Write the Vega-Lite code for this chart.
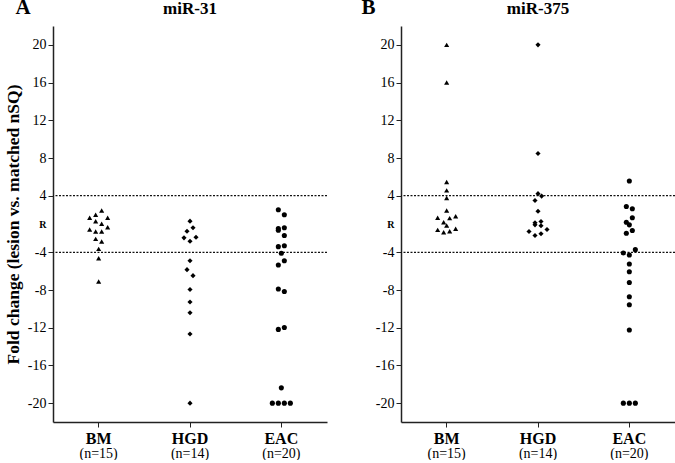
{
  "$schema": "https://vega.github.io/schema/vega-lite/v6.json",
  "config": {
    "font": "Liberation Serif",
    "view": {"stroke": null},
    "axis": {"labelColor": "#000", "titleColor": "#000", "domainColor": "#222", "tickColor": "#222", "labelFont": "Liberation Serif", "titleFont": "Liberation Serif", "grid": false, "labelOverlap": false},
    "title": {"font": "Liberation Serif", "color": "#000"}
  },
  "padding": {"left": 4, "top": -4, "right": 0, "bottom": 0},
  "spacing": 33,
  "datasets": {
    "a": [
      {"g": "BM", "fc": 2.44, "s": 0.5}, {"g": "BM", "fc": 1.66, "s": -1.5}, {"g": "BM", "fc": 1.98, "s": -0.5},
      {"g": "BM", "fc": 1.66, "s": 1.5}, {"g": "BM", "fc": 1.3, "s": -0.5}, {"g": "BM", "fc": 1.02, "s": 0.5},
      {"g": "BM", "fc": -1.59, "s": -1.5}, {"g": "BM", "fc": -1.8, "s": -0.5}, {"g": "BM", "fc": -1.8, "s": 0.5},
      {"g": "BM", "fc": -1.34, "s": 1.5}, {"g": "BM", "fc": -2.58, "s": -0.5}, {"g": "BM", "fc": -2.86, "s": 0.5},
      {"g": "BM", "fc": -3.64, "s": 0}, {"g": "BM", "fc": -4.64, "s": 0}, {"g": "BM", "fc": -7.1, "s": 0},
      {"g": "HGD", "fc": 1.3, "s": 0}, {"g": "HGD", "fc": -1.77, "s": -0.5}, {"g": "HGD", "fc": -1.4, "s": 0.5},
      {"g": "HGD", "fc": -2.47, "s": -1}, {"g": "HGD", "fc": -2.83, "s": 0}, {"g": "HGD", "fc": -2.41, "s": 1},
      {"g": "HGD", "fc": -4.89, "s": 0}, {"g": "HGD", "fc": -5.84, "s": -0.5}, {"g": "HGD", "fc": -6.48, "s": 0.5},
      {"g": "HGD", "fc": -7.94, "s": 0}, {"g": "HGD", "fc": -9.28, "s": 0}, {"g": "HGD", "fc": -10.42, "s": 0},
      {"g": "HGD", "fc": -12.66, "s": 0}, {"g": "HGD", "fc": -20, "s": 0},
      {"g": "EAC", "fc": 2.51, "s": -0.5}, {"g": "EAC", "fc": 1.98, "s": 0.5}, {"g": "EAC", "fc": -1.48, "s": -0.5},
      {"g": "EAC", "fc": -1.66, "s": -0.5}, {"g": "EAC", "fc": -1.4, "s": 0.5}, {"g": "EAC", "fc": -2.22, "s": 0.5},
      {"g": "EAC", "fc": -3.4, "s": -0.5}, {"g": "EAC", "fc": -3.3, "s": 0.5}, {"g": "EAC", "fc": -4.11, "s": 0},
      {"g": "EAC", "fc": -4.89, "s": 0.5}, {"g": "EAC", "fc": -5.35, "s": -0.5}, {"g": "EAC", "fc": -7.9, "s": -0.5},
      {"g": "EAC", "fc": -8.16, "s": 0.5}, {"g": "EAC", "fc": -12.18, "s": -0.5}, {"g": "EAC", "fc": -11.97, "s": 0.5},
      {"g": "EAC", "fc": -18.38, "s": 0}, {"g": "EAC", "fc": -20, "s": -1.5}, {"g": "EAC", "fc": -20, "s": -0.5},
      {"g": "EAC", "fc": -20, "s": 0.5}, {"g": "EAC", "fc": -20, "s": 1.5}
    ],
    "b": [
      {"g": "BM", "fc": 20, "s": 0}, {"g": "BM", "fc": 16, "s": 0}, {"g": "BM", "fc": 5.45, "s": 0},
      {"g": "BM", "fc": 4.57, "s": 0}, {"g": "BM", "fc": 3.75, "s": 0}, {"g": "BM", "fc": 2.44, "s": 0},
      {"g": "BM", "fc": 1.66, "s": -1.5}, {"g": "BM", "fc": 1.83, "s": 1.5}, {"g": "BM", "fc": 1.62, "s": 0.5},
      {"g": "BM", "fc": 1.19, "s": -0.5}, {"g": "BM", "fc": -1.16, "s": 0}, {"g": "BM", "fc": -1.62, "s": -1.5},
      {"g": "BM", "fc": -1.87, "s": -0.5}, {"g": "BM", "fc": -1.77, "s": 0.5}, {"g": "BM", "fc": -1.51, "s": 1.5},
      {"g": "HGD", "fc": 20, "s": 0}, {"g": "HGD", "fc": 8.48, "s": 0}, {"g": "HGD", "fc": 4.22, "s": 0},
      {"g": "HGD", "fc": 3.96, "s": 0.6}, {"g": "HGD", "fc": 3.5, "s": -0.5}, {"g": "HGD", "fc": 2.36, "s": 0},
      {"g": "HGD", "fc": 1.13, "s": -0.5}, {"g": "HGD", "fc": -1.09, "s": -0.5}, {"g": "HGD", "fc": 1.27, "s": 0.5},
      {"g": "HGD", "fc": -1.19, "s": 0.5}, {"g": "HGD", "fc": -1.8, "s": -1.5}, {"g": "HGD", "fc": -1.59, "s": 1.5},
      {"g": "HGD", "fc": -2.22, "s": -0.5}, {"g": "HGD", "fc": -2.04, "s": 0.5},
      {"g": "EAC", "fc": 5.56, "s": 0}, {"g": "EAC", "fc": 2.86, "s": -0.5}, {"g": "EAC", "fc": 2.62, "s": 0.5},
      {"g": "EAC", "fc": 1.66, "s": 0.5}, {"g": "EAC", "fc": 1.19, "s": -0.5}, {"g": "EAC", "fc": -1.09, "s": 0},
      {"g": "EAC", "fc": -1.98, "s": -0.5}, {"g": "EAC", "fc": -1.69, "s": 0.5}, {"g": "EAC", "fc": -4.07, "s": -1},
      {"g": "EAC", "fc": -4.28, "s": 0}, {"g": "EAC", "fc": -3.72, "s": 1}, {"g": "EAC", "fc": -5.24, "s": 0},
      {"g": "EAC", "fc": -6.06, "s": 0}, {"g": "EAC", "fc": -7.2, "s": 0}, {"g": "EAC", "fc": -8.72, "s": 0},
      {"g": "EAC", "fc": -9.57, "s": 0}, {"g": "EAC", "fc": -12.24, "s": 0}, {"g": "EAC", "fc": -20, "s": -1},
      {"g": "EAC", "fc": -20, "s": 0}, {"g": "EAC", "fc": -20, "s": 1}
    ],
    "n": [{"n": "(n=15)"}, {"n": "(n=14)"}, {"n": "(n=20)"}],
    "cut": [{"v": 4}, {"v": -4}]
  },
  "hconcat": [
    {
      "width": 274,
      "height": 396,
      "title": {"text": "miR-31", "anchor": "middle", "frame": "group", "fontSize": 17, "fontWeight": "bold", "offset": -22},
      "resolve": {"scale": {"x": "independent"}, "axis": {"x": "independent"}},
      "layer": [
        {
          "data": {"name": "cut"},
          "mark": {"type": "rule", "strokeDash": [2, 1.5], "color": "#111", "strokeWidth": 1.3},
          "encoding": {"y": {"field": "v", "type": "quantitative", "scale": {"domain": [-22, -1, 1, 22], "range": [396, 198, 198, 0], "nice": false, "zero": false}}}
        },
        {
          "mark": {"type": "rule", "color": "#cccccc", "strokeWidth": 1},
          "encoding": {"y": {"datum": 1, "type": "quantitative"}}
        },
        {
          "data": {"name": "a"},
          "mark": {"type": "point", "filled": true, "color": "#000", "opacity": 1, "size": 26},
          "encoding": {
            "x": {"field": "g", "type": "nominal", "sort": ["BM", "HGD", "EAC"], "scale": {"type": "band", "paddingInner": 0, "paddingOuter": 0},
              "axis": {"orient": "bottom", "title": null, "labelAngle": 0, "labelFontSize": 16, "labelFontWeight": "bold", "tickSize": 5, "labelPadding": 3, "domainWidth": 1.5}},
            "xOffset": {"field": "s", "type": "quantitative", "scale": {"domain": [-7.61, 7.61]}},
            "y": {"field": "fc", "type": "quantitative", "scale": {"domain": [-22, -1, 1, 22], "range": [396, 198, 198, 0], "nice": false, "zero": false},
              "axis": {"title": "Fold change (lesion vs. matched nSQ)", "titleFontSize": 17.5, "titleFontWeight": "bold", "titlePadding": 5,
                "values": [-20, -16, -12, -8, -4, 1, 4, 8, 12, 16, 20], "tickCount": 30, "labelOverlap": false,
                "labelExpr": "datum.value == 1 ? 'R' : '' + datum.value",
                "labelFontSize": {"condition": {"test": "datum.value == 1", "value": 10}, "value": 14},
                "labelFontWeight": {"condition": {"test": "datum.value == 1", "value": "bold"}, "value": "normal"},
                "tickOpacity": {"condition": {"test": "datum.value == 1", "value": 0}, "value": 1},
                "tickSize": 5, "labelPadding": 2, "domainWidth": 1.5}},
            "shape": {"field": "g", "type": "nominal", "scale": {"domain": ["BM", "HGD", "EAC"], "range": ["triangle-up", "diamond", "circle"]}, "legend": null}
          }
        },
        {
          "data": {"name": "n"},
          "mark": {"type": "point", "opacity": 0},
          "encoding": {
            "x": {"field": "n", "type": "nominal", "sort": null, "scale": {"type": "band", "paddingInner": 0, "paddingOuter": 0},
              "axis": {"orient": "bottom", "title": null, "domain": false, "ticks": false, "labelAngle": 0, "labelFontSize": 14, "labelPadding": 24}}
          }
        },
        {
          "data": {"name": "n"},
          "mark": {"type": "point", "opacity": 0},
          "encoding": {
            "x": {"field": "n", "type": "nominal", "sort": null, "scale": {"type": "band", "paddingInner": 0, "paddingOuter": 0},
              "axis": {"orient": "top", "domain": false, "ticks": false, "labels": false, "title": "A", "titleFontSize": 21, "titleFontWeight": "bold",
                "titleX": -38, "titleY": -13, "titleAlign": "left", "titleBaseline": "alphabetic", "titleAngle": 0}}
          }
        }
      ]
    },
    {
      "width": 274,
      "height": 396,
      "title": {"text": "miR-375", "anchor": "middle", "frame": "group", "fontSize": 17, "fontWeight": "bold", "offset": -22},
      "resolve": {"scale": {"x": "independent"}, "axis": {"x": "independent"}},
      "layer": [
        {
          "data": {"name": "cut"},
          "mark": {"type": "rule", "strokeDash": [2, 1.5], "color": "#111", "strokeWidth": 1.3},
          "encoding": {"y": {"field": "v", "type": "quantitative", "scale": {"domain": [-22, -1, 1, 22], "range": [396, 198, 198, 0], "nice": false, "zero": false}}}
        },
        {
          "mark": {"type": "rule", "color": "#cccccc", "strokeWidth": 1},
          "encoding": {"y": {"datum": 1, "type": "quantitative"}}
        },
        {
          "data": {"name": "b"},
          "mark": {"type": "point", "filled": true, "color": "#000", "opacity": 1, "size": 26},
          "encoding": {
            "x": {"field": "g", "type": "nominal", "sort": ["BM", "HGD", "EAC"], "scale": {"type": "band", "paddingInner": 0, "paddingOuter": 0},
              "axis": {"orient": "bottom", "title": null, "labelAngle": 0, "labelFontSize": 16, "labelFontWeight": "bold", "tickSize": 5, "labelPadding": 3, "domainWidth": 1.5}},
            "xOffset": {"field": "s", "type": "quantitative", "scale": {"domain": [-7.61, 7.61]}},
            "y": {"field": "fc", "type": "quantitative", "scale": {"domain": [-22, -1, 1, 22], "range": [396, 198, 198, 0], "nice": false, "zero": false},
              "axis": {"title": null,
                "values": [-20, -16, -12, -8, -4, 1, 4, 8, 12, 16, 20], "tickCount": 30, "labelOverlap": false,
                "labelExpr": "datum.value == 1 ? 'R' : '' + datum.value",
                "labelFontSize": {"condition": {"test": "datum.value == 1", "value": 10}, "value": 14},
                "labelFontWeight": {"condition": {"test": "datum.value == 1", "value": "bold"}, "value": "normal"},
                "tickOpacity": {"condition": {"test": "datum.value == 1", "value": 0}, "value": 1},
                "tickSize": 5, "labelPadding": 2, "domainWidth": 1.5}},
            "shape": {"field": "g", "type": "nominal", "scale": {"domain": ["BM", "HGD", "EAC"], "range": ["triangle-up", "diamond", "circle"]}, "legend": null}
          }
        },
        {
          "data": {"name": "n"},
          "mark": {"type": "point", "opacity": 0},
          "encoding": {
            "x": {"field": "n", "type": "nominal", "sort": null, "scale": {"type": "band", "paddingInner": 0, "paddingOuter": 0},
              "axis": {"orient": "bottom", "title": null, "domain": false, "ticks": false, "labelAngle": 0, "labelFontSize": 14, "labelPadding": 24}}
          }
        },
        {
          "data": {"name": "n"},
          "mark": {"type": "point", "opacity": 0},
          "encoding": {
            "x": {"field": "n", "type": "nominal", "sort": null, "scale": {"type": "band", "paddingInner": 0, "paddingOuter": 0},
              "axis": {"orient": "top", "domain": false, "ticks": false, "labels": false, "title": "B", "titleFontSize": 21, "titleFontWeight": "bold",
                "titleX": -40, "titleY": -13, "titleAlign": "left", "titleBaseline": "alphabetic", "titleAngle": 0}}
          }
        }
      ]
    }
  ]
}
